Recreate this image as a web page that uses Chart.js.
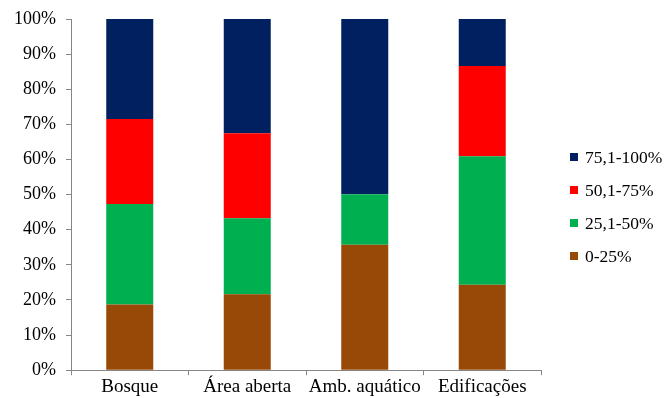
<!DOCTYPE html>
<html>
<head>
<meta charset="utf-8">
<script src="https://cdn.jsdelivr.net/npm/chart.js@4"></script>
<style>
  html, body { margin: 0; padding: 0; background: #fff; }
  #wrap { width: 672px; height: 398px; position: relative; }
</style>
</head>
<body>
<div id="wrap"><canvas id="chart"></canvas></div>
<script>
// categorias (ambientes)
const categories = ['Bosque', 'Área aberta', 'Amb. aquático', 'Edificações'];

// classes de cobertura, em %
const labels = ['0-25%', '25,1-50%', '50,1-75%', '75,1-100%'];
const serie0a25 = [18.7, 21.6, 35.7, 24.3];
const serie25a50 = [28.6, 21.7, 14.4, 36.6];
const serie50a75 = [24.2, 24.2, 0, 25.7];
const serie75a100 = [28.5, 32.5, 49.9, 13.4];

const colors = ['#984807', '#00B050', '#FF0000', '#002060'];
const yTicks = [0, 10, 20, 30, 40, 50, 60, 70, 80, 90, 100];

const serif = "'Liberation Serif', 'Times New Roman', serif";
const axisColor = '#868686';

// legenda desenhada à direita, ordem invertida como no original
const sideLegend = {
    id: 'sideLegend',
    afterDraw(chart) {
        const ctx = chart.ctx;
        const ds = chart.data.datasets.slice().reverse();
        ctx.save();
        ctx.font = '17.5px ' + serif;
        ctx.textBaseline = 'middle';
        ds.forEach((d, i) => {
            const y = 157 + i * 33;
            ctx.fillStyle = d.backgroundColor;
            ctx.fillRect(570, y - 4, 8, 8);
            ctx.fillStyle = '#000';
            ctx.fillText(d.label, 585, y + 1);
        });
        ctx.restore();
    }
};

new Chart(document.getElementById('chart'), {
    type: 'bar',
    data: {
        labels: categories,
        datasets: [
            { label: labels[0], data: serie0a25, backgroundColor: colors[0] },
            { label: labels[1], data: serie25a50, backgroundColor: colors[1] },
            { label: labels[2], data: serie50a75, backgroundColor: colors[2] },
            { label: labels[3], data: serie75a100, backgroundColor: colors[3] }
        ]
    },
    options: {
        responsive: true,
        maintainAspectRatio: false,
        animation: false,
        categoryPercentage: 1,
        barPercentage: 0.4,
        layout: { padding: { top: 8, right: 131, left: 0, bottom: 0 } },
        plugins: {
            legend: { display: false },
            tooltip: { enabled: false }
        },
        scales: {
            x: {
                stacked: true,
                grid: { drawOnChartArea: false, drawTicks: true, tickLength: 5, color: axisColor },
                border: { color: axisColor, width: 1 },
                ticks: { color: '#000', font: { family: serif, size: 19 }, padding: 0, maxRotation: 0 }
            },
            y: {
                stacked: true,
                min: 0,
                max: 100,
                afterBuildTicks(axis) { axis.ticks = yTicks.map(v => ({ value: v })); },
                afterFit(axis) { axis.width = 71; },
                grid: { drawOnChartArea: false, drawTicks: true, tickLength: 5, color: axisColor },
                border: { color: axisColor, width: 1 },
                ticks: { color: '#000', font: { family: serif, size: 18, lineHeight: 1 }, padding: 10, callback: v => v + '%' }
            }
        }
    },
    plugins: [sideLegend]
});
</script>
</body>
</html>
